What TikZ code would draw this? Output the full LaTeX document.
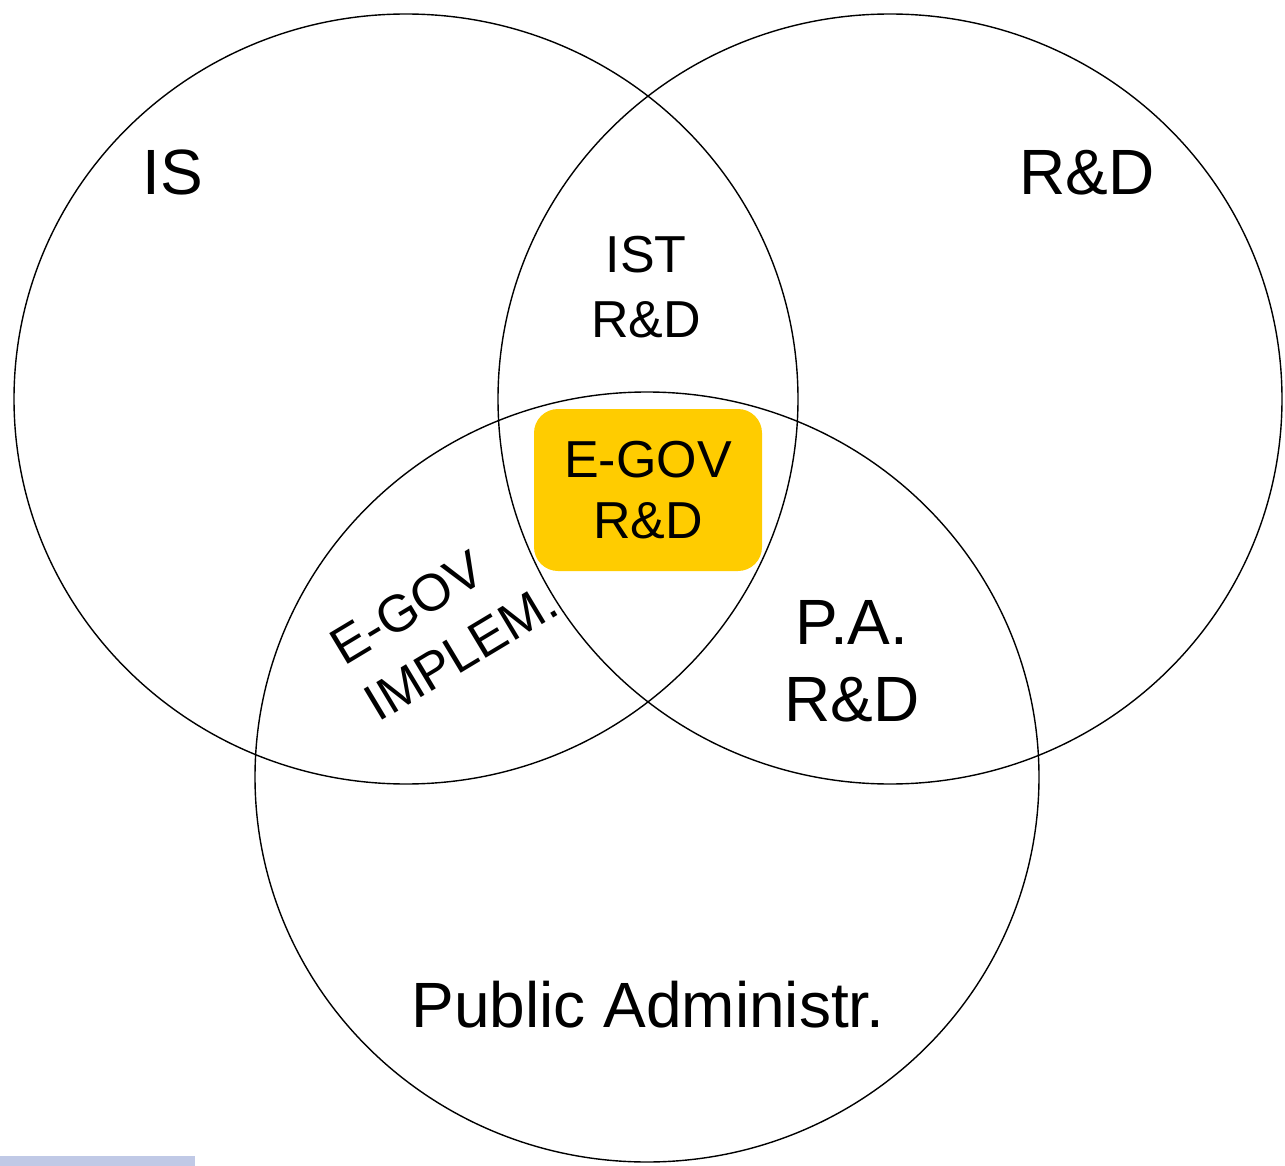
\documentclass[tikz,border=0pt]{standalone}
\usepackage{fontspec}
\setmainfont{Liberation Sans}
\usepackage{xcolor}
\definecolor{egovyellow}{HTML}{FFCC00}
\definecolor{barblue}{HTML}{C0C9E6}

\begin{document}
\begin{tikzpicture}[x=0.5pt,y=-0.5pt,
    set/.style={draw=black,line width=0.7pt},
    biglabel/.style={inner sep=0pt,align=center,font=\fontsize{32}{38.5}\selectfont},
    smalllabel/.style={inner sep=0pt,align=center,font=\fontsize{26}{30.5}\selectfont},
    corebox/.style={smalllabel,fill=egovyellow,rounded corners=12pt,
                    minimum width=114pt,minimum height=81pt}]
        % Frame
        \useasboundingbox (0,0) rectangle (1285,1166);
        % Pale bar bottom left
        \fill [barblue] (0,1156) rectangle (195,1166);
        % Core box (drawn first, circles go over it)
        \node[corebox] (egov) at (648,490) {E-GOV\\R\&D};
        % The three sets
        \draw [set] (406,399) ellipse [x radius=392, y radius=385];
        \draw [set] (890,399) ellipse [x radius=392, y radius=385];
        \draw [set] (647,777) ellipse [x radius=392, y radius=385];
        % Set names
        \node[biglabel] (is) at (173,172) {IS};
        \node[biglabel] (rd) at (1087,173) {R\&D};
        \node[biglabel] (pubadm) at (648,1005) {Public Administr.};
        % Overlaps
        \node[smalllabel,font=\fontsize{26}{32.5}\selectfont] (ist) at (646,287) {IST\\R\&D};
        \node[biglabel] (pard) at (852,661) {P.A.\\R\&D};
        \node[smalllabel,align=left,font=\fontsize{26}{33}\selectfont,rotate=31] (impl) at (444,624) {E-GOV\\IMPLEM.};
\end{tikzpicture}
\end{document}
